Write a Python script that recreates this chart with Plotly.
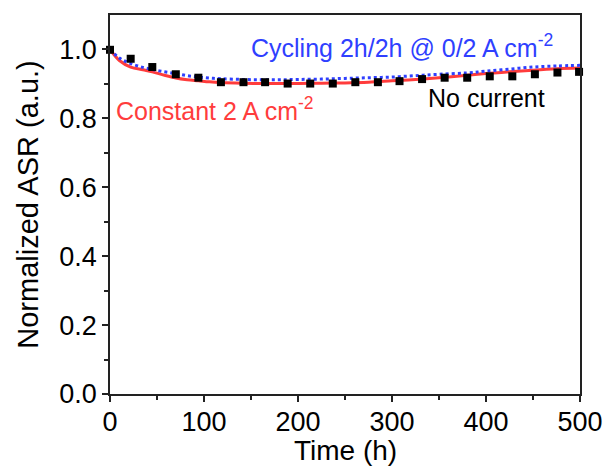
import plotly.graph_objects as go

# No current (black squares)
t_nc = [0, 22, 45, 70, 94, 118, 142, 165, 189, 213, 237, 261, 285, 308, 332, 356, 380, 404, 428, 452, 476, 499]
asr_nc = [0.999, 0.973, 0.949, 0.928, 0.918, 0.905, 0.905, 0.905, 0.901, 0.901, 0.901, 0.905, 0.905, 0.908,
          0.914, 0.918, 0.918, 0.922, 0.922, 0.928, 0.933, 0.935]

# Constant 2 A cm-2 (red solid)
t_const = [0, 10, 22, 35, 45, 58, 70, 82, 94, 106, 118, 140, 160, 180, 200, 225, 250, 275, 300, 325, 350,
           380, 400, 425, 450, 475, 500]
asr_const = [1.0, 0.968, 0.949, 0.941, 0.935, 0.925, 0.917, 0.912, 0.909, 0.906, 0.904, 0.902, 0.901, 0.901,
             0.901, 0.902, 0.903, 0.905, 0.909, 0.913, 0.918, 0.925, 0.930, 0.935, 0.940, 0.944, 0.946]

# Cycling 2h/2h @ 0/2 A cm-2 (blue dotted)
t_cyc = [0, 10, 22, 35, 45, 58, 70, 82, 94, 106, 118, 140, 160, 180, 200, 225, 250, 275, 300, 325, 350,
         380, 400, 425, 450, 475, 500]
asr_cyc = [1.0, 0.975, 0.959, 0.948, 0.942, 0.935, 0.930, 0.924, 0.920, 0.917, 0.915, 0.913, 0.912, 0.912,
           0.913, 0.914, 0.916, 0.918, 0.920, 0.924, 0.928, 0.932, 0.937, 0.943, 0.949, 0.952, 0.954]

x_ticks = [0, 100, 200, 300, 400, 500]
y_ticks = [0.0, 0.2, 0.4, 0.6, 0.8, 1.0]
y_tick_labels = ["0.0", "0.2", "0.4", "0.6", "0.8", "1.0"]
y_minor = [0.1, 0.3, 0.5, 0.7, 0.9]

RED = "#ff3c3c"
BLUE = "#2f3fff"
FONT = "Liberation Sans, Arial, sans-serif"

fig = go.Figure()
fig.add_trace(go.Scatter(x=t_const, y=asr_const, mode="lines", line=dict(color=RED, width=3, shape="spline"),
                         name="Constant", showlegend=False))
fig.add_trace(go.Scatter(x=t_cyc, y=asr_cyc, mode="lines", line=dict(color=BLUE, width=3, dash="dot", shape="spline"),
                         name="Cycling", showlegend=False))
fig.add_trace(go.Scatter(x=t_nc, y=asr_nc, mode="markers", marker=dict(symbol="square", size=8, color="black"),
                         name="No current", showlegend=False, cliponaxis=False))

fig.add_annotation(xref="paper", yref="paper", x=0.296, y=0.919, xanchor="left", yanchor="middle",
                   text="Cycling 2h/2h @ 0/2 A cm<sup>-2</sup>", showarrow=False,
                   font=dict(family=FONT, size=25, color=BLUE))
fig.add_annotation(xref="paper", yref="paper", x=0.009, y=0.753, xanchor="left", yanchor="middle",
                   text="Constant 2 A cm<sup>-2</sup>", showarrow=False,
                   font=dict(family=FONT, size=25, color=RED))
fig.add_annotation(xref="paper", yref="paper", x=0.673, y=0.782, xanchor="left", yanchor="middle",
                   text="No current", showarrow=False,
                   font=dict(family=FONT, size=25, color="black"))
# x-axis title
fig.add_annotation(xref="paper", yref="paper", x=0.5, y=0, xanchor="center", yanchor="top", yshift=-39,
                   text="Time (h)", showarrow=False,
                   font=dict(family=FONT, size=28, color="black"))

common = dict(showline=True, linecolor="#222", linewidth=1.5, mirror=True, showgrid=False, zeroline=False,
              ticks="outside", ticklen=6, tickwidth=1.5, tickcolor="#222", automargin=False,
              tickfont=dict(family=FONT, size=27, color="black"))

fig.update_xaxes(range=[0, 500], tickvals=x_ticks, ticklabelstandoff=-3,
                 minor=dict(dtick=50, ticks="outside", ticklen=4, tickwidth=1.5, tickcolor="#222"),
                 **common)
fig.update_yaxes(range=[0, 1.1], tickvals=y_ticks, ticktext=y_tick_labels,
                 minor=dict(tickvals=y_minor, ticks="outside", ticklen=4, tickwidth=1.5, tickcolor="#222"),
                 title=dict(text="Normalized ASR (a.u.)", font=dict(family=FONT, size=29, color="black"), standoff=12),
                 **common)

fig.update_layout(width=608, height=468, margin=dict(l=110, r=28, t=15, b=74),
                  plot_bgcolor="white", paper_bgcolor="white", font=dict(family=FONT))

fig.write_html("out.html")
